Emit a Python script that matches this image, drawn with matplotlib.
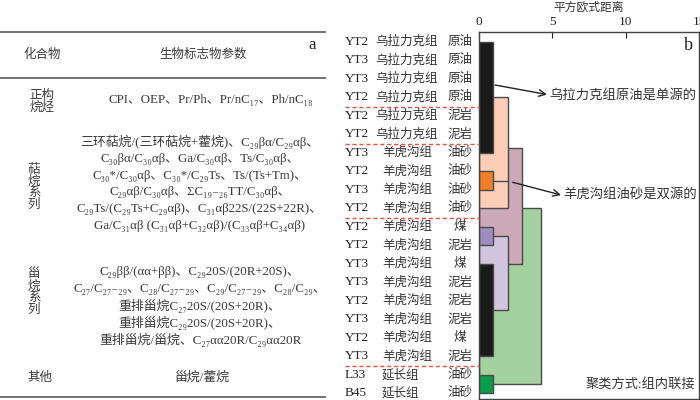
import matplotlib
matplotlib.use('Agg')
import matplotlib.pyplot as plt
from matplotlib import transforms
from matplotlib.patches import Rectangle

plt.rcParams['font.family'] = ['Liberation Serif', 'Noto Sans CJK SC', 'DejaVu Serif']

# ---- a: 生物标志物参数表 ----
table_header = ['化合物', '生物标志物参数']
group_names = ['正构\n烷烃', '萜\n烷\n系\n列', '甾\n烷\n系\n列', '其他']
alkane_params = ['CPI、OEP、Pr/Ph、Pr/nC₁₇、Ph/nC₁₈']
terpane_params = [
    '三环萜烷/(三环萜烷+藿烷)、C₂₉βα/C₂₉αβ、',
    'C₃₀βα/C₃₀αβ、Ga/C₃₀αβ、Ts/C₃₀αβ、',
    'C₃₀*/C₃₀αβ、C₃₀*/C₂₉Ts、Ts/(Ts+Tm)、',
    'C₂₉αβ/C₃₀αβ、ΣC₁₉₋₂₆TT/C₃₀αβ、',
    'C₂₉Ts/(C₂₉Ts+C₂₉αβ)、C₃₁αβ22S/(22S+22R)、',
    'Ga/C₃₁αβ (C₃₁αβ+C₃₂αβ)/(C₃₃αβ+C₃₄αβ)',
]
sterane_params = [
    'C₂₉ββ/(αα+ββ)、C₂₉20S/(20R+20S)、',
    'C₂₇/C₂₇₋₂₉、C₂₈/C₂₇₋₂₉、C₂₉/C₂₇₋₂₉、C₂₈/C₂₉、',
    '重排甾烷C₂₇20S/(20S+20R)、',
    '重排甾烷C₂₉20S/(20S+20R)、',
    '重排甾烷/甾烷、C₂₇αα20R/C₂₉αα20R',
]
other_params = ['甾烷/藿烷']

# ---- b: 聚类树 ----
sample_ids = ['YT2', 'YT3', 'YT3', 'YT2', 'YT2', 'YT2', 'YT3', 'YT2', 'YT3', 'YT2',
              'YT2', 'YT2', 'YT3', 'YT3', 'YT2', 'YT3', 'YT2', 'YT3', 'L33', 'B45']
formations = ['乌拉力克组'] * 6 + ['羊虎沟组'] * 12 + ['延长组'] * 2
lithology = ['原油'] * 4 + ['泥岩'] * 2 + ['油砂'] * 4 + \
            ['煤', '泥岩', '煤', '泥岩', '泥岩', '泥岩', '煤', '泥岩'] + ['油砂', '油砂']
group_ends = [4, 6, 10, 18]

# 聚类块: 距离, 起始行, 结束行, 颜色
clust_dist = [4.2, 2.95, 1.95, 1.95, 0.93, 0.93, 0.93, 0.93, 0.93]
clust_top = [10, 6.75, 4, 11.5, 1, 13, 8, 11, 19]
clust_bot = [19.5, 13, 10, 15.5, 7, 18, 9, 12, 20]
clust_col = ['#a5d1a0', '#cba9b8', '#fdcdb8', '#d1c5e0', '#1a1a1a', '#1a1a1a',
             '#f07f2c', '#9f8cc0', '#0a9c4a']
link_dist = [0.93, 1.95]
link_row = 8.5

fig = plt.figure(figsize=(7, 4), dpi=100)

ax = fig.add_axes([479 / 700, 1 / 400, 220 / 700, 366.7 / 400])
ax.set_xlim(0, 15)
ax.set_ylim(20.30, 0.476)
for x, t, b, c in zip(clust_dist, clust_top, clust_bot, clust_col):
    ax.add_patch(Rectangle((0, t), x, b - t, facecolor=c, edgecolor='#4a4a4a', lw=1))
ax.plot(link_dist, [link_row, link_row], color='#4a4a4a', lw=1)
ax.xaxis.tick_top()
ax.xaxis.set_label_position('top')
ax.set_xticks([0, 5, 10, 15])
ax.set_yticks([])
ax.tick_params(axis='x', direction='in', length=4, pad=3, labelsize=9.5, colors='#222')
ax.set_xlabel('平方欧式距离', fontsize=8.5, labelpad=4, color='#333')
for s in ax.spines.values():
    s.set_color('#444')
    s.set_linewidth(1)

# 覆盖层, 像素坐标
ax0 = fig.add_axes([0, 0, 1, 1], zorder=5)
ax0.set_xlim(0, 700)
ax0.set_ylim(400, 0)
ax0.axis('off')

tc = '#3a3a3a'
for yl in [32.3, 77.7, 397]:
    ax0.plot([0, 325], [yl, yl], color='#666', lw=1.3)
ax0.text(42, 55, table_header[0], ha='center', va='center', fontsize=9, color=tc)
ax0.text(203, 55, table_header[1], ha='center', va='center', fontsize=9, color=tc)
ax0.text(312, 45, 'a', ha='center', va='center', fontsize=12, color='#222')

ax0.text(42, 102, group_names[0], ha='center', va='center', fontsize=9, color=tc, linespacing=0.95)
ax0.text(34, 187, group_names[1], ha='center', va='center', fontsize=9, color=tc, linespacing=0.95)
ax0.text(34, 292, group_names[2], ha='center', va='center', fontsize=9, color=tc, linespacing=0.95)
ax0.text(40, 378, group_names[3], ha='center', va='center', fontsize=9, color=tc)

pf = 9.3
ax0.text(211, 100, alkane_params[0], ha='center', va='center', fontsize=pf, color=tc)
for i, s in enumerate(terpane_params):
    ax0.text(200, 142.3 + 16.7 * i, s, ha='center', va='center', fontsize=pf, color=tc)
for i, s in enumerate(sterane_params):
    ax0.text(200, 271.7 + 17 * i, s, ha='center', va='center', fontsize=pf, color=tc)
ax0.text(202, 378, other_params[0], ha='center', va='center', fontsize=pf, color=tc)

# 样品标签
blend = transforms.blended_transform_factory(ax0.transData, ax.transData)
for i in range(len(sample_ids)):
    r = i + 1
    ax0.text(345, r, sample_ids[i], transform=blend, ha='left', va='center', fontsize=9.5, color='#222')
    fx = 375 if formations[i] == '乌拉力克组' else 382
    ax0.text(fx, r, formations[i], transform=blend, ha='left', va='center', fontsize=9, color='#333')
    ax0.text(460, r, lithology[i], transform=blend, ha='center', va='center', fontsize=9, color='#333')
for g in group_ends:
    ax0.plot([345, 479], [g + 0.5, g + 0.5], transform=blend, color='#e8553c', lw=1, ls=(0, (3, 2)))

# 注释
arrow = dict(arrowstyle='->', lw=1, color='#222', shrinkA=0, shrinkB=0, mutation_scale=12)
ax0.annotate('', xy=(547, 94.5), xytext=(495, 85), arrowprops=arrow)
ax0.text(549, 95, '乌拉力克组原油是单源的', ha='left', va='center', fontsize=9.6, color='#333')
ax0.annotate('', xy=(561, 195), xytext=(512.7, 182.3), arrowprops=arrow)
ax0.text(563, 195, '羊虎沟组油砂是双源的', ha='left', va='center', fontsize=9.6, color='#333')
ax0.text(688, 46, 'b', ha='center', va='center', fontsize=13, color='#222')
ax0.text(695, 385, '聚类方式:组内联接', ha='right', va='center', fontsize=9.5, color='#333')

fig.savefig('out.png', dpi=100)
